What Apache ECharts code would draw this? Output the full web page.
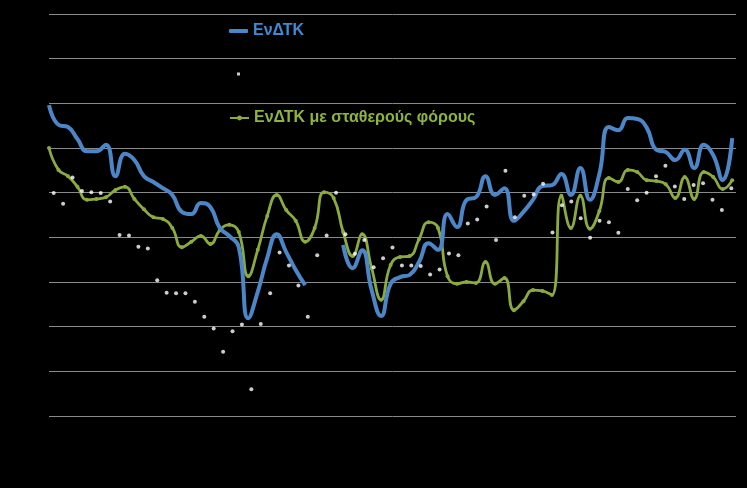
<!DOCTYPE html>
<html><head><meta charset="utf-8">
<script src="https://cdn.jsdelivr.net/npm/echarts@6/dist/echarts.min.js"></script>
<style>html,body{margin:0;padding:0;background:#000}#c{width:747px;height:488px}</style>
</head><body><div id="c"></div>
<script>
const seriesNames = ['ΕνΔΤΚ', ' ', 'ΕνΔΤΚ με σταθερούς φόρους'];
const hicp = [1.96,1.52,1.47,1.20,0.93,0.93,1.07,0.37,0.87,0.73,0.37,0.24,0.10,-0.05,-0.43,-0.48,-0.23,-0.32,-0.79,-0.97,
  -1.22,-2.81,-2.22,-1.46,-0.93,-1.33,-1.73,-2.07,null,null,null,-1.17,-1.69,-1.29,-2.18,-2.76,-2.04,-1.89,-1.84,-1.55,
  -1.13,-1.28,-0.48,-0.77,-0.16,-0.10,0.37,-0.05,0.10,-0.63,-0.43,-0.16,0.15,0.17,0.42,-0.05,0.55,-0.16,0.42,1.47,
  1.40,1.67,1.65,1.45,0.96,0.91,0.73,0.96,0.55,1.07,0.84,0.28,1.22];
const hicpConstTax = [1.00,0.51,0.37,0.13,-0.16,-0.14,-0.10,0.06,0.13,-0.14,-0.37,-0.55,-0.59,-0.79,-1.22,-1.10,-0.97,-1.15,-0.84,-0.72,
  -0.88,-1.87,-1.28,-0.52,-0.05,-0.39,-0.63,-1.10,-0.79,0.01,-0.12,-0.88,-1.42,-0.93,-1.69,-2.40,-1.62,-1.44,-1.42,-1.04,
  -0.66,-0.79,-1.87,-2.04,-2.00,-2.02,-1.55,-2.04,-1.91,-2.63,-2.43,-2.18,-2.20,-2.29,-0.07,-0.79,-0.07,-0.81,-0.41,0.33,
  0.24,0.51,0.46,0.28,0.26,0.19,-0.12,0.35,-0.14,0.46,0.35,0.08,0.28];
const dotValues = [-0.01,-0.25,0.34,0.04,0.01,-0.01,-0.20,-0.95,-0.96,-1.21,-1.25,-1.96,-2.24,-2.25,-2.25,-2.44,-2.78,-3.04,-3.56,-3.10,
  -2.95,-4.40,-2.94,-2.25,-1.34,-1.63,-2.08,-2.78,-1.40,-0.96,0.00,-0.93,-1.37,-1.06,-1.67,-1.47,-1.23,-1.63,-1.63,-1.64,
  -1.83,-1.72,-1.36,-1.40,-0.69,-0.60,-0.31,-1.06,0.49,-0.55,-0.07,-0.04,0.20,-0.89,-0.28,-0.20,-0.57,-1.01,-0.63,-0.66,
  -0.90,0.08,-0.17,0.00,0.37,0.60,0.14,-0.14,0.17,0.21,-0.16,-0.39,0.10];
const yMin = -5, yMax = 4, yStep = 1;

const blue = '#4a86c8', green = '#8cab3e';
const lineData = a => a.map((v, i) => [i, v]);
const dotData = dotValues.map((v, j) => [j + 0.5, v]);

const chart = echarts.init(document.getElementById('c'));
const font = {fontFamily: 'Liberation Sans', fontWeight: 'bold', fontSize: 16};
chart.setOption({
  backgroundColor: '#000',
  animation: false,
  grid: {left: 49, right: 11, top: 14, bottom: 72},
  xAxis: [
    {type: 'value', min: 0, max: hicp.length - 1 + 0.4, show: false},
    {type: 'value', min: 0, max: dotValues.length, show: false}
  ],
  yAxis: {type: 'value', min: yMin, max: yMax, interval: yStep,
    axisLabel: {show: false}, axisLine: {show: false}, axisTick: {show: false},
    splitLine: {lineStyle: {color: '#8a8a8a', width: 1}}},
  legend: [
    {data: [{name: seriesNames[0], icon: 'roundRect', textStyle: {color: '#3d8bd3'}}], left: 229, top: 23, padding: 0,
      itemWidth: 19, itemHeight: 4, textStyle: font},
    {data: [{name: seriesNames[1], icon: 'rect'}], left: 237, top: 66, padding: 0, itemWidth: 3, itemHeight: 3,
      textStyle: Object.assign({}, font, {color: '#000'})},
    {data: [{name: seriesNames[2], textStyle: {color: '#8db43c'}}], left: 229, top: 110, padding: 0, itemWidth: 19, itemHeight: 6,
      lineStyle: {width: 2}, textStyle: font}
  ],
  series: [
    {name: seriesNames[0], type: 'line', xAxisIndex: 0, data: lineData(hicp), smooth: 0.5, symbol: 'none',
      lineStyle: {color: blue, width: 4}, itemStyle: {color: blue}, z: 3},
    {name: seriesNames[1], type: 'scatter', xAxisIndex: 1, data: dotData, symbol: 'circle', symbolSize: 4,
      itemStyle: {color: '#ffffff'}, z: 4},
    {name: seriesNames[2], type: 'line', xAxisIndex: 0, data: lineData(hicpConstTax), smooth: 0.5, symbol: 'circle',
      symbolSize: 4, showSymbol: true, lineStyle: {color: green, width: 2.8}, itemStyle: {color: green}, z: 2}
  ]
});
</script></body></html>
